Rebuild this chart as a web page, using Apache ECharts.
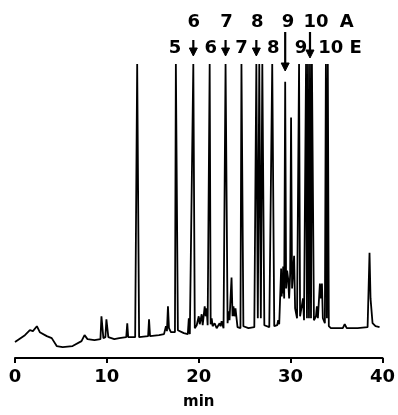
<!DOCTYPE html>
<html><head><meta charset="utf-8">
<script src="https://cdn.jsdelivr.net/npm/echarts@6/dist/echarts.min.js"></script>
<style>html,body{margin:0;padding:0;background:#fff}#c{width:398px;height:415px}</style>
</head><body><div id="c"></div>
<script>
// Chromatogram trace: retention time (min) and detector response (arbitrary units, off-scale peaks = 296)
const retentionTime = [
 0.00,1.08,1.62,1.95,2.38,2.70,3.46,4.00,4.54,5.19,6.27,7.24,7.57,7.89,8.65,9.30,9.41,9.62,9.84,9.95,
 10.16,10.81,11.35,12.11,12.22,12.32,13.08,13.30,13.51,14.49,14.59,14.70,15.68,16.22,16.43,16.54,16.65,16.76,16.97,
 17.41,17.51,17.73,18.38,18.81,18.92,19.03,19.24,19.41,19.57,19.78,20.00,20.11,20.32,20.43,20.65,20.76,20.86,20.97,
 21.19,21.30,21.41,21.51,21.73,21.95,22.27,22.38,22.49,22.70,22.92,23.14,23.24,23.35,23.57,23.68,23.78,23.89,24.00,
 24.22,24.54,24.65,24.86,25.41,26.05,26.27,26.43,26.59,26.76,26.92,27.14,27.68,28.00,28.22,28.54,28.65,28.76,28.97,
 29.03,29.08,29.14,29.19,29.30,29.41,29.51,29.62,29.73,29.84,29.95,30.05,30.16,30.27,30.38,30.49,30.70,30.92,31.03,31.35,31.46,
 31.68,31.78,31.89,32.00,32.11,32.22,32.32,32.54,32.76,32.86,32.97,33.19,33.30,33.41,33.51,33.73,33.84,33.95,34.05,34.16,34.38,35.68,
 35.89,36.11,37.30,38.38,38.59,38.70,38.92,39.24,39.68
];
const detectorSignal = [
 16,23,28,27,32,26,22,20,12,11,12,17,23,19,18,19,42,20,21,39,
 21,19,20,21,35,21,21,296,21,22,39,22,23,24,32,27,52,30,26,
 26,296,28,25,24,40,24,23,296,30,33,42,34,44,33,52,42,50,33,
 296,34,40,32,35,30,35,32,37,30,296,35,47,38,81,42,52,42,50,
 31,30,296,32,30,31,296,40,296,40,296,33,31,296,32,33,38,34,90,
 62,85,65,92,60,278,70,88,80,60,84,242,70,86,103,50,40,296,42,60,38,
 296,40,296,40,296,40,296,38,42,52,40,75,60,75,40,35,296,40,296,32,30,30,
 34,30,30,31,106,60,35,32,31
];
const xTickValues = [0,10,20,30,40];
const xAxisTitle = 'min';

// Peak annotations (retention times in min)
const acidArrowTimes = [19.41, 22.92, 26.27, 29.41, 32.11];
const acidLabels = ['6','7','8','9','10','A'];
const acidLabelTimes = [19.46, 23.03, 26.38, 29.73, 32.76, 36.11];
const esterLabels = ['5','6','7','8','9','10','E'];
const esterLabelTimes = [17.41, 21.30, 24.65, 28.11, 31.14, 34.38, 37.08];

const chart = echarts.init(document.getElementById('c'), null, {renderer:'canvas'});
const FONT = 'DejaVu Sans';
chart.setOption({
  animation:false,
  backgroundColor:'#fff',
  grid:{left:15,right:13,top:63,bottom:55},
  xAxis:{
    type:'value',min:xTickValues[0],max:xTickValues[xTickValues.length-1],interval:10,
    name:xAxisTitle,nameLocation:'middle',nameGap:37,
    nameTextStyle:{fontSize:15,fontWeight:'bold',fontFamily:FONT,color:'#000'},
    axisLine:{lineStyle:{color:'#000',width:2}},
    axisTick:{length:5,lineStyle:{color:'#000',width:2}},
    axisLabel:{fontSize:18,fontWeight:'bold',fontFamily:FONT,color:'#000',margin:10,showMinLabel:true,showMaxLabel:true},
    splitLine:{show:false}
  },
  yAxis:{type:'value',min:0,max:297,show:false},
  series:[{
    type:'line',
    data:retentionTime.map((t,i)=>[t,detectorSignal[i]]),
    symbol:'none',
    lineStyle:{color:'#000',width:1.8},
    clip:true
  }]
});

// Layout of annotation rows (pixels)
const topRowY = 22, secondRowY = 48;
const arrowGeom = [[40,56],[40,56],[40,56],[32,71],[32,58]];
const px = t => chart.convertToPixel({xAxisIndex:0}, t);
const graphics = [];
function addText(txt, t, y){
  graphics.push({type:'text', x:px(t), y:y, style:{text:txt, fill:'#000', fontSize:18, fontWeight:'bold', fontFamily:FONT, align:'center', verticalAlign:'middle'}});
}
acidLabels.forEach((l,i)=>addText(l, acidLabelTimes[i], topRowY));
esterLabels.forEach((l,i)=>addText(l, esterLabelTimes[i], secondRowY));
acidArrowTimes.forEach((t,i)=>{
  const x = px(t), y1 = arrowGeom[i][0], y2 = arrowGeom[i][1];
  graphics.push({type:'line', shape:{x1:x,y1:y1,x2:x,y2:y2-6}, style:{stroke:'#000', lineWidth:2.2}});
  graphics.push({type:'polygon', shape:{points:[[x-4,y2-8],[x+4,y2-8],[x,y2]]}, style:{fill:'#000', stroke:'#000', lineWidth:1, lineJoin:'round'}});
});
chart.setOption({graphic:graphics});
</script>
</body></html>
